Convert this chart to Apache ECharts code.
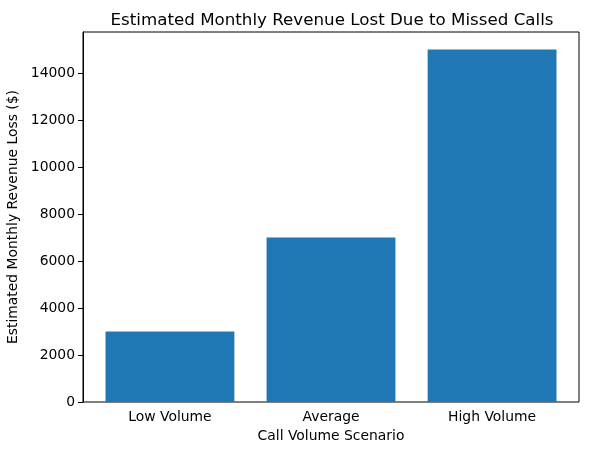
<!DOCTYPE html>
<html>
<head>
<meta charset="utf-8">
<script src="https://cdn.jsdelivr.net/npm/echarts@6/dist/echarts.min.js"></script>
<style>html,body{margin:0;padding:0;background:#fff}#c{width:589px;height:455px}</style>
</head>
<body>
<div id="c"></div>
<script>
const categories = ['Low Volume', 'Average', 'High Volume'];
const revenueLoss = [3000, 7000, 15000];
const yTicks = [0, 2000, 4000, 6000, 8000, 10000, 12000, 14000];
const titleText = 'Estimated Monthly Revenue Lost Due to Missed Calls';
const xName = 'Call Volume Scenario';
const yName = 'Estimated Monthly Revenue Loss ($)';

const font = 'DejaVu Sans';
const fs = 13.9;
const chart = echarts.init(document.getElementById('c'), null, {renderer: 'canvas'});
chart.setOption({
  animation: false,
  backgroundColor: '#fff',
  title: {
    text: titleText,
    left: 327, top: 7, textAlign: 'center',
    textStyle: {fontFamily: font, fontSize: 16.7, fontWeight: 'normal', color: '#000'}
  },
  grid: [
    {left: 83, right: 10, top: 32, bottom: 53, containLabel: false, outerBoundsMode: 'none',
     show: true, borderColor: '#000', borderWidth: 1},
    {left: 89.4, right: 16.4, top: 32, bottom: 53, containLabel: false, outerBoundsMode: 'none'}
  ],
  xAxis: [
    {type: 'value', gridIndex: 0, show: false, min: 0, max: 1},
    {
      type: 'category', gridIndex: 1,
      data: categories,
      name: xName, nameLocation: 'middle', nameGap: 27,
      nameTextStyle: {fontFamily: font, fontSize: fs, color: '#000'},
      axisLine: {show: false},
      axisTick: {alignWithLabel: true, length: 5, lineStyle: {color: '#000'}},
      axisLabel: {fontFamily: font, fontSize: fs, color: '#000', margin: 8},
      splitLine: {show: false}
    }
  ],
  yAxis: [
    {
      type: 'value', gridIndex: 0,
      min: 0, max: 15750, interval: 2000,
      name: yName, nameLocation: 'middle', nameGap: 57,
      nameTextStyle: {fontFamily: font, fontSize: fs, color: '#000'},
      axisLine: {show: true, lineStyle: {color: '#000', width: 1}},
      axisTick: {show: true, length: 5, lineStyle: {color: '#000'}, customValues: yTicks},
      axisLabel: {fontFamily: font, fontSize: fs, color: '#000', margin: 8, customValues: yTicks,
                  formatter: v => String(v)},
      splitLine: {show: false}
    },
    {type: 'value', gridIndex: 1, min: 0, max: 15750, show: false, splitLine: {show: false}}
  ],
  series: [{
    type: 'bar',
    xAxisIndex: 1, yAxisIndex: 1,
    data: revenueLoss,
    barWidth: '80%',
    itemStyle: {color: '#1f77b4'}
  }]
});
</script>
</body>
</html>
